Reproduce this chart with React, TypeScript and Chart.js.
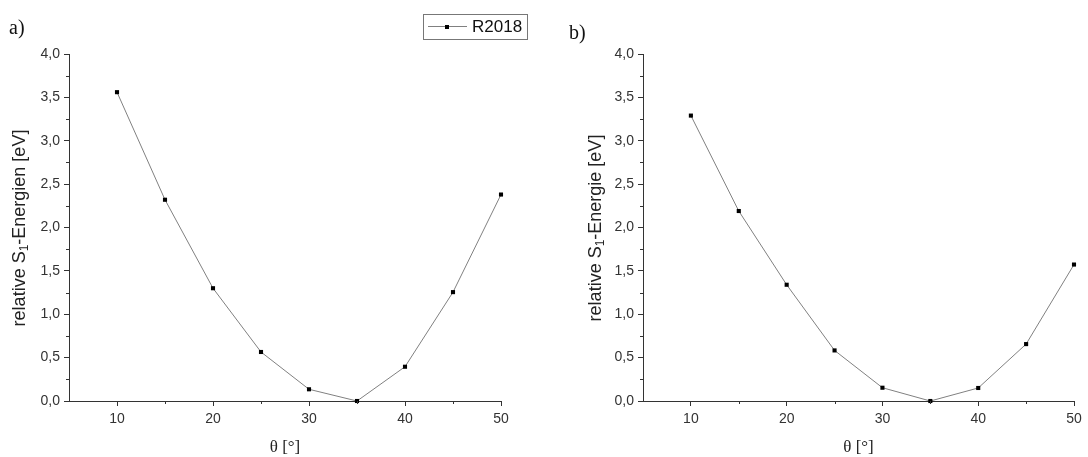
import React, { useEffect, useRef } from "react";
import { Chart, registerables } from "chart.js";

Chart.register(...registerables);

const angles = [10, 15, 20, 25, 30, 35, 40, 45, 50];
const energiesA = [3.56, 2.32, 1.3, 0.565, 0.135, 0, 0.395, 1.255, 2.38];
const energiesB = [3.29, 2.19, 1.34, 0.583, 0.153, 0, 0.15, 0.656, 1.573];
const xMajorTicks = [10, 20, 30, 40, 50];
const xMinorTicks = [15, 25, 35, 45];
const yMajorTicks = [0, 0.5, 1, 1.5, 2, 2.5, 3, 3.5, 4];
const yMinorTicks = [0.25, 0.75, 1.25, 1.75, 2.25, 2.75, 3.25, 3.75];
const seriesLabel = "R2018";

const SANS = '"Liberation Sans", Arial, sans-serif';
const SERIF = '"Liberation Serif", "Times New Roman", serif';
const AXIS = "#333333";

type PanelCfg = {
  values: number[];
  panel: string;
  yTitleParts: [string, string, string];
  axisLeft: number;
  axisRight: number;
  yTitleX: number;
  panelX: number;
  panelY: number;
  legend: boolean;
};

function makeChart(canvas: HTMLCanvasElement, cfg: PanelCfg): Chart {
  const W = 544;
  const H = 457;
  const top = 54;
  const bottom = 401;

  const extras = {
    id: "extras",
    afterDraw(chart: any) {
      const ctx = chart.ctx as CanvasRenderingContext2D;
      const xs = chart.scales.x;
      const ys = chart.scales.y;
      const area = chart.chartArea;
      ctx.save();
      // minor ticks
      ctx.strokeStyle = AXIS;
      ctx.lineWidth = 1;
      ctx.beginPath();
      for (const v of yMinorTicks) {
        const py = Math.round(ys.getPixelForValue(v)) + 0.5;
        ctx.moveTo(area.left - 3, py);
        ctx.lineTo(area.left, py);
      }
      for (const v of xMinorTicks) {
        const px = Math.round(xs.getPixelForValue(v)) + 0.5;
        ctx.moveTo(px, area.bottom);
        ctx.lineTo(px, area.bottom + 3);
      }
      ctx.stroke();

      // y title with subscript
      const [p1, sub, p2] = cfg.yTitleParts;
      ctx.fillStyle = "#222";
      const big = `18px ${SANS}`;
      const small = `12px ${SANS}`;
      ctx.font = big;
      const w1 = ctx.measureText(p1).width;
      const w3 = ctx.measureText(p2).width;
      ctx.font = small;
      const w2 = ctx.measureText(sub).width;
      const total = w1 + w2 + w3;
      const cy = 228;
      ctx.translate(cfg.yTitleX, cy);
      ctx.rotate(-Math.PI / 2);
      ctx.textBaseline = "middle";
      ctx.textAlign = "left";
      let x0 = -total / 2;
      ctx.font = big;
      ctx.fillText(p1, x0, 0);
      x0 += w1;
      ctx.font = small;
      ctx.fillText(sub, x0, 5);
      x0 += w2;
      ctx.font = big;
      ctx.fillText(p2, x0, 0);
      ctx.setTransform(1, 0, 0, 1, 0, 0);

      // x title
      ctx.font = `17px ${SERIF}`;
      ctx.textAlign = "center";
      ctx.textBaseline = "alphabetic";
      ctx.fillStyle = "#222";
      ctx.fillText("\u03b8 [\u00b0]", (area.left + area.right) / 2, 452);

      // panel label
      ctx.font = `20px ${SERIF}`;
      ctx.textAlign = "left";
      ctx.fillStyle = "#111";
      ctx.fillText(cfg.panel, cfg.panelX, cfg.panelY);

      // legend
      if (cfg.legend) {
        const ds = chart.data.datasets[0];
        ctx.strokeStyle = "#777";
        ctx.lineWidth = 1;
        ctx.strokeRect(423.5, 14.5, 104, 25);
        ctx.strokeStyle = "#808080";
        ctx.beginPath();
        ctx.moveTo(428, 26.5);
        ctx.lineTo(467, 26.5);
        ctx.stroke();
        ctx.fillStyle = "#000";
        ctx.fillRect(445, 25, 4, 4);
        ctx.font = `17px ${SANS}`;
        ctx.textBaseline = "middle";
        ctx.fillStyle = "#111";
        ctx.fillText(ds.label, 472, 27.5);
      }
      ctx.restore();
    },
  };

  return new Chart(canvas, {
    type: "line",
    data: {
      labels: angles,
      datasets: [
        {
          label: seriesLabel,
          data: angles.map((a, i) => ({ x: a, y: cfg.values[i] })),
          borderColor: "#808080",
          borderWidth: 1,
          pointStyle: "rect",
          pointRadius: 2.9,
          pointBackgroundColor: "#000",
          pointBorderColor: "#000",
          pointBorderWidth: 0,
          tension: 0,
          clip: false as any,
        },
      ],
    },
    options: {
      animation: false,
      responsive: false,
      devicePixelRatio: 1,
      events: [],
      layout: {
        padding: { left: 0, right: W - cfg.axisRight, top: top, bottom: 0 },
      },
      plugins: {
        legend: { display: false },
        tooltip: { enabled: false },
        title: { display: false },
      },
      scales: {
        x: {
          type: "linear",
          min: 5,
          max: 50,
          afterBuildTicks: (s: any) => {
            s.ticks = xMajorTicks.map((v) => ({ value: v }));
          },
          afterFit: (s: any) => {
            s.height = H - bottom;
          },
          ticks: {
            color: AXIS,
            font: { family: SANS, size: 14 },
            padding: 5,
            maxRotation: 0,
            autoSkip: false,
          },
          grid: {
            display: true,
            drawOnChartArea: false,
            drawTicks: true,
            tickLength: 5,
            color: AXIS,
            tickColor: AXIS,
          },
          border: { display: true, color: AXIS, width: 1 },
        },
        y: {
          type: "linear",
          min: 0,
          max: 4,
          afterBuildTicks: (s: any) => {
            s.ticks = yMajorTicks.map((v) => ({ value: v }));
          },
          afterFit: (s: any) => {
            s.width = cfg.axisLeft;
          },
          ticks: {
            color: AXIS,
            font: { family: SANS, size: 14 },
            padding: 4,
            autoSkip: false,
            callback: (v: any) => Number(v).toFixed(1).replace(".", ","),
          },
          grid: {
            display: true,
            drawOnChartArea: false,
            drawTicks: true,
            tickLength: 5,
            color: AXIS,
            tickColor: AXIS,
          },
          border: { display: true, color: AXIS, width: 1 },
        },
      },
    },
    plugins: [extras],
  } as any);
}

export default function App() {
  const leftRef = useRef<HTMLCanvasElement>(null);
  const rightRef = useRef<HTMLCanvasElement>(null);

  useEffect(() => {
    document.body.style.margin = "0";
    document.body.style.background = "#fff";
    const a = makeChart(leftRef.current!, {
      values: energiesA,
      panel: "a)",
      yTitleParts: ["relative S", "1", "-Energien [eV]"],
      axisLeft: 69,
      axisRight: 501,
      yTitleX: 20,
      panelX: 9,
      panelY: 34,
      legend: true,
    });
    const b = makeChart(rightRef.current!, {
      values: energiesB,
      panel: "b)",
      yTitleParts: ["relative S", "1", "-Energie [eV]"],
      axisLeft: 99,
      axisRight: 530,
      yTitleX: 52,
      panelX: 25,
      panelY: 39,
      legend: false,
    });
    return () => {
      a.destroy();
      b.destroy();
    };
  }, []);

  return (
    <div style={{ position: "relative", width: 1088, height: 457, background: "#fff" }}>
      <canvas
        ref={leftRef}
        width={544}
        height={457}
        style={{ position: "absolute", left: 0, top: 0, width: 544, height: 457 }}
      />
      <canvas
        ref={rightRef}
        width={544}
        height={457}
        style={{ position: "absolute", left: 544, top: 0, width: 544, height: 457 }}
      />
    </div>
  );
}
